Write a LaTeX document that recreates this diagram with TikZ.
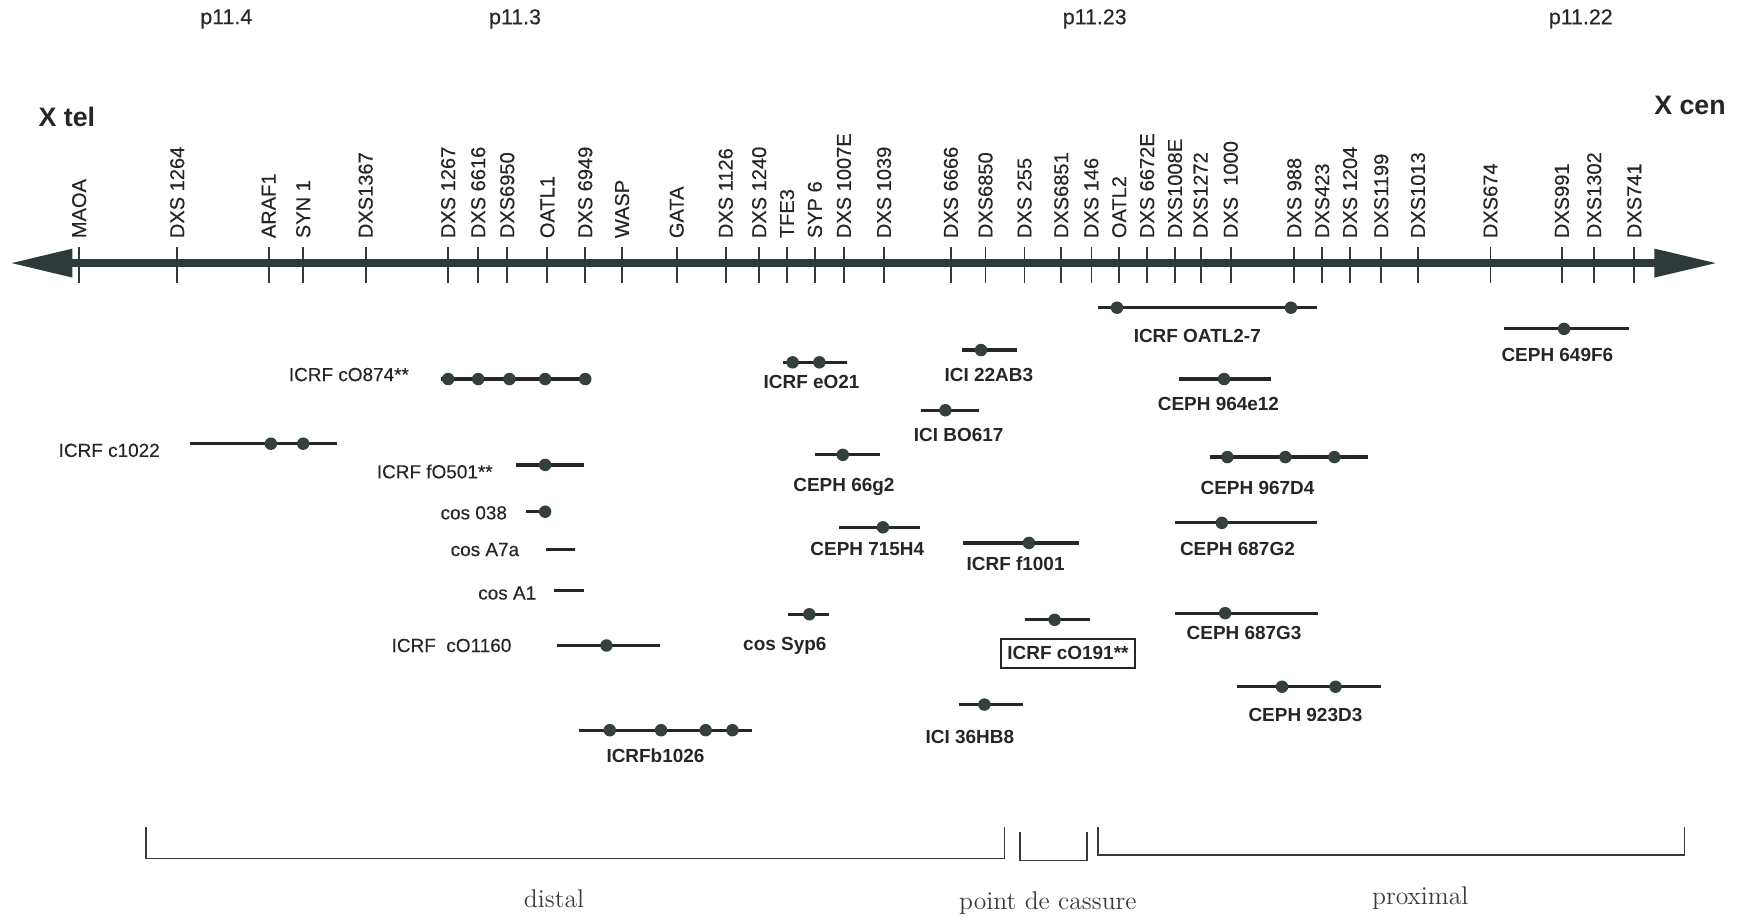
\documentclass[tikz,border=0pt]{standalone}
\usepackage{fontspec}
\newfontfamily\arialf{Liberation Sans}
\newfontfamily\arialh{Liberation Sans}[FakeBold=0.35]
\usetikzlibrary{calc}
\definecolor{axiscol}{HTML}{2E3A39}
\definecolor{dotcol}{HTML}{34403F}
\definecolor{inkcol}{HTML}{262626}
\definecolor{serifcol}{HTML}{3A3A3A}
\tikzset{
  tickmark/.style={line width=0.8pt, draw=axiscol},
  mlabel/.style={rotate=90, anchor=west, inner sep=0pt, text=inkcol, font=\arialh\fontsize{9}{10}\selectfont},
  bandlabel/.style={inner sep=0pt, text=inkcol, font=\arialh\fontsize{9.6}{11}\selectfont},
  endlabel/.style={inner sep=0pt, text=inkcol, font=\arialf\bfseries\fontsize{12}{14}\selectfont},
  probe/.style={line width=1.45pt, draw=inkcol},
  plabel/.style={inner sep=0pt, text=inkcol, font=\arialh\fontsize{8.5}{10}\selectfont},
  plabelb/.style={inner sep=0pt, text=inkcol, font=\arialf\bfseries\fontsize{8.5}{10}\selectfont},
  bracketline/.style={line width=0.7pt, draw=serifcol},
  regionlabel/.style={inner sep=0pt, text=serifcol, font=\fontsize{11.5}{13}\selectfont},
}
\newcommand\probeline[4]{%
  \draw[probe] (#2,#1) -- (#3,#1);
  \foreach \d in {#4} {\fill[dotcol] (\d,#1) circle[radius=2.8pt];}%
}
\begin{document}
\begin{tikzpicture}[x=0.5pt,y=-0.5pt]
\useasboundingbox (0,0) rectangle (1568,827);

% band labels
\node[bandlabel] (b1) at (203,17) {p11.4};
\node[bandlabel] (b2) at (462,17) {p11.3};
\node[bandlabel] (b3) at (982,17) {p11.23};
\node[bandlabel] (b4) at (1418,17) {p11.22};

\node[endlabel] (xtel) at (60,105) {X tel};
\node[endlabel] (xcen) at (1516,95) {X cen};

% axis
\coordinate (axL) at (65,236);
\coordinate (axR) at (1486,236);
\draw[line width=3.75pt, draw=axiscol] (axL) -- (axR);
\fill[axiscol] (10.5,236) -- (65,223) -- (65,249) -- cycle;
\fill[axiscol] (1539,236) -- (1484,223) -- (1484,249) -- cycle;

% markers
\foreach \x/\t [count=\i] in {71/MAOA, 159/DXS 1264, 241/ARAF1, 272/SYN 1, 328/DXS1367,
  402/DXS 1267, 429/DXS 6616, 455/DXS6950, 491/OATL1, 525/DXS 6949, 558/WASP, 607/GATA,
  651/DXS 1126, 681/DXS 1240, 706/TFE3, 731/SYP 6, 757/DXS 1007E, 793/DXS 1039,
  853/DXS 6666, 884/DXS6850, 919/DXS 255, 952/DXS6851, 979/DXS 146, 1004/OATL2,
  1029/DXS 6672E, 1054/DXS1008E, 1077/DXS1272, 1104/DXS~~1000, 1161/DXS 988, 1186/DXS423,
  1211/DXS 1204, 1239/DXS1199, 1272/DXS1013, 1337/DXS674, 1401/DXS991, 1430/DXS1302, 1466/DXS741}
{
  \draw[tickmark] (\x,222) -- (\x,254);
  \node[mlabel] (m\i) at (\x,214) {\t};
}

% probes (left group)
\probeline{340}{396}{530}{402,429,457,489,525}
\node[plabel] (p1) at (313,336) {ICRF cO874**};
\probeline{398}{170}{302}{243,272}
\node[plabel] (p2) at (98,404) {ICRF c1022};
\probeline{417}{463}{524}{489}
\node[plabel] (p3) at (390,423) {ICRF fO501**};
\probeline{459}{472}{490}{489}
\node[plabel] (p4) at (425,460) {cos 038};
\draw[probe] (490,493) -- (516,493);
\node[plabel] (p5) at (435,493) {cos A7a};
\draw[probe] (497,530) -- (524,530);
\node[plabel] (p6) at (455,532) {cos A1};
\probeline{579}{500}{592}{544}
\node[plabel] (p7) at (405,579) {ICRF~~cO1160};
\probeline{655}{519}{675}{547,593,633,657}
\node[plabelb] (p8) at (588,678) {ICRFb1026};

% middle group
\probeline{325}{702}{760}{711,735}
\node[plabelb] (p9) at (728,343) {ICRF eO21};
\probeline{314}{863}{912}{880}
\node[plabelb] (p10) at (887,336) {ICI 22AB3};
\probeline{368}{826}{878}{848}
\node[plabelb] (p11) at (860,390) {ICI BO617};
\probeline{408}{731}{789}{756}
\node[plabelb] (p12) at (757,437) {CEPH 66g2};
\probeline{473}{753}{825}{792}
\node[plabelb] (p13) at (778,492) {CEPH 715H4};
\probeline{487}{864}{968}{923}
\node[plabelb] (p14) at (911,506) {ICRF f1001};
\probeline{551}{707}{744}{726}
\node[plabelb] (p15) at (704,579) {cos Syp6};
\probeline{556}{919}{978}{946}
\node[plabelb, draw=inkcol, line width=0.7pt, minimum width=60pt, minimum height=13pt] (p16) at (958,586) {ICRF cO191**};
\probeline{632}{860}{918}{883}
\node[plabelb] (p17) at (870,661) {ICI 36HB8};

% right group
\probeline{276}{985}{1181}{1002,1158}
\node[plabelb] (p18) at (1074,301) {ICRF OATL2-7};
\probeline{295}{1349}{1461}{1403}
\node[plabelb] (p19) at (1397,318) {CEPH 649F6};
\probeline{340}{1058}{1140}{1098}
\node[plabelb] (p20) at (1093,362) {CEPH 964e12};
\probeline{410}{1085}{1227}{1101,1153,1197}
\node[plabelb] (p21) at (1128,438) {CEPH 967D4};
\probeline{469}{1054}{1181}{1096}
\node[plabelb] (p22) at (1110,492) {CEPH 687G2};
\probeline{550}{1054}{1182}{1099}
\node[plabelb] (p23) at (1116,568) {CEPH 687G3};
\probeline{616}{1110}{1239}{1150,1198}
\node[plabelb] (p24) at (1171,641) {CEPH 923D3};

% region brackets
\draw[bracketline] (131,742) -- (131,770) -- (901,770) -- (901,742);
\draw[bracketline] (915,746) -- (915,772) -- (975,772) -- (975,746);
\draw[bracketline] (985,742) -- (985,767) -- (1511,767) -- (1511,742);
\node[regionlabel] (r1) at (497,806) {distal};
\node[regionlabel] (r2) at (940,810) {point de cassure};
\node[regionlabel] (r3) at (1274,806) {proximal};
\end{tikzpicture}
\end{document}
